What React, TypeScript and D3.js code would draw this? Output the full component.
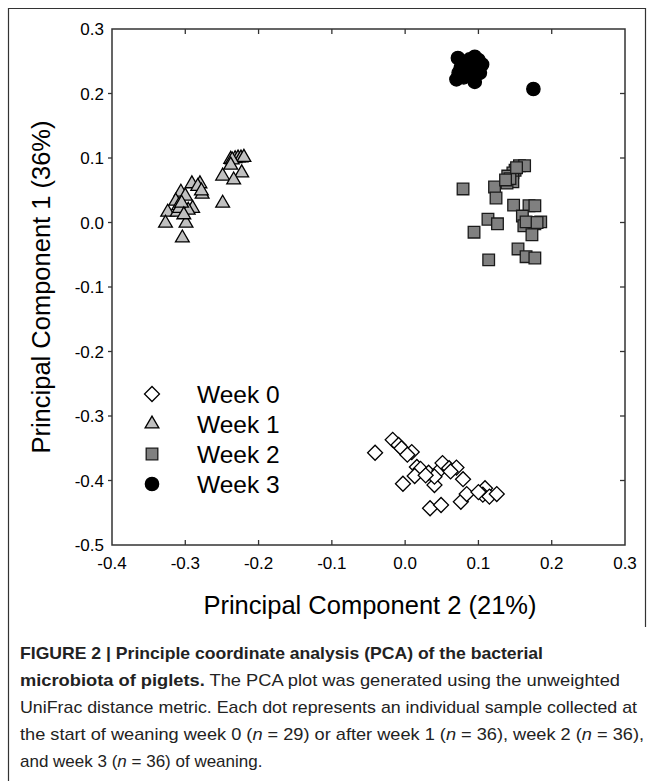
import React, { useEffect, useRef } from 'react';
import * as d3 from 'd3';

// [PC2, PC1] pairs
const week0 = [
  [-0.041, -0.357], [-0.017, -0.337], [-0.009, -0.345], [-0.005, -0.350], [0.009, -0.356],
  [0.016, -0.379], [0.021, -0.382], [0.013, -0.393], [-0.003, -0.405], [0.032, -0.388],
  [0.040, -0.407], [0.047, -0.384], [0.051, -0.373], [0.060, -0.381], [0.070, -0.380],
  [0.079, -0.398], [0.034, -0.443], [0.049, -0.438], [0.076, -0.433], [0.084, -0.421],
  [0.109, -0.412], [0.106, -0.422], [0.115, -0.425], [0.125, -0.421], [0.040, -0.394],
  [0.003, -0.360], [0.028, -0.392], [0.062, -0.386], [0.100, -0.418],
];
const week1 = [
  [-0.238, 0.098], [-0.232, 0.099], [-0.228, 0.100], [-0.224, 0.100], [-0.220, 0.101],
  [-0.236, 0.097], [-0.238, 0.089], [-0.249, 0.072], [-0.223, 0.077], [-0.234, 0.066],
  [-0.249, 0.030], [-0.291, 0.060], [-0.280, 0.060], [-0.277, 0.044], [-0.306, 0.047],
  [-0.300, 0.041], [-0.313, 0.033], [-0.309, 0.026], [-0.290, 0.022], [-0.296, 0.019],
  [-0.324, 0.016], [-0.311, 0.016], [-0.327, -0.001], [-0.299, -0.001], [-0.304, -0.024],
  [-0.283, 0.056], [-0.308, 0.022], [-0.305, 0.030], [-0.302, 0.012], [-0.278, 0.049],
];
const week2 = [
  [0.156, 0.088], [0.163, 0.088], [0.150, 0.081], [0.147, 0.077], [0.140, 0.072],
  [0.147, 0.063], [0.139, 0.061], [0.143, 0.068], [0.122, 0.055], [0.079, 0.052],
  [0.124, 0.038], [0.148, 0.027], [0.169, 0.026], [0.177, 0.026], [0.113, 0.005],
  [0.126, -0.002], [0.160, 0.010], [0.162, -0.005], [0.177, -0.002], [0.185, 0.001],
  [0.173, -0.019], [0.094, -0.015], [0.154, -0.041], [0.165, -0.053], [0.177, -0.055],
  [0.114, -0.058], [0.165, 0.001], [0.180, 0.000], [0.137, 0.066], [0.152, 0.085],
];
const week3 = [
  [0.072, 0.255], [0.078, 0.245], [0.088, 0.253], [0.095, 0.257], [0.100, 0.252],
  [0.105, 0.245], [0.098, 0.240], [0.085, 0.238], [0.073, 0.232], [0.070, 0.222],
  [0.080, 0.225], [0.090, 0.226], [0.095, 0.218], [0.102, 0.232], [0.083, 0.248],
  [0.076, 0.240], [0.092, 0.244], [0.175, 0.207],
];

const legendLabels = ['Week 0', 'Week 1', 'Week 2', 'Week 3'];
const xTicks = [-0.4, -0.3, -0.2, -0.1, 0.0, 0.1, 0.2, 0.3];
const yTicks = [0.3, 0.2, 0.1, 0.0, -0.1, -0.2, -0.3, -0.4, -0.5];

const captionLines = [
  [{ b: true, t: 'FIGURE 2 | Principle coordinate analysis (PCA) of the bacterial' }],
  [{ b: true, t: 'microbiota of piglets.' }, { t: ' The PCA plot was generated using the unweighted' }],
  [{ t: 'UniFrac distance metric. Each dot represents an individual sample collected at' }],
  [{ t: 'the start of weaning week 0 (' }, { i: true, t: 'n' }, { t: ' = 29) or after week 1 (' }, { i: true, t: 'n' },
    { t: ' = 36), week 2 (' }, { i: true, t: 'n' }, { t: ' = 36),' }],
  [{ t: 'and week 3 (' }, { i: true, t: 'n' }, { t: ' = 36) of weaning.' }],
];
// rendered widths of the caption lines in the figure (last line left natural)
const captionWidths = [523, 600, 617, 624, 0];

const App = () => {
  const ref = useRef<SVGSVGElement>(null);
  const W = 655, H = 781;
  const left = 112, right = 625, top = 29, bottom = 545;

  useEffect(() => {
    const svg = d3.select(ref.current);
    svg.selectAll('*').remove();
    const font = '"Liberation Sans", Arial, sans-serif';
    const fmt = (d: number) => d3.format('.1f')(d).replace('\u2212', '-');

    const x = d3.scaleLinear().domain([-0.4, 0.3]).range([left, right]);
    const y = d3.scaleLinear().domain([-0.5, 0.3]).range([bottom, top]);

    // outer border
    svg.append('path')
      .attr('d', `M8.5,781 V8.5 H645.5 V627`)
      .attr('fill', 'none').attr('stroke', '#333').attr('stroke-width', 1.2);

    // frame
    svg.append('rect')
      .attr('x', left).attr('y', top).attr('width', right - left).attr('height', bottom - top)
      .attr('fill', 'none').attr('stroke', '#333').attr('stroke-width', 1.5);

    const tk = svg.append('g').attr('stroke', '#333').attr('stroke-width', 1.3);
    xTicks.slice(1, -1).forEach(t => {
      tk.append('line').attr('x1', x(t)).attr('x2', x(t)).attr('y1', top).attr('y2', top + 5);
      tk.append('line').attr('x1', x(t)).attr('x2', x(t)).attr('y1', bottom).attr('y2', bottom - 5);
    });
    yTicks.slice(1, -1).forEach(t => {
      tk.append('line').attr('x1', left).attr('x2', left - 4).attr('y1', y(t)).attr('y2', y(t));
      tk.append('line').attr('x1', right).attr('x2', right - 5).attr('y1', y(t)).attr('y2', y(t));
    });

    svg.append('g').selectAll('text').data(xTicks).enter().append('text')
      .attr('x', d => x(d)).attr('y', bottom + 24)
      .attr('text-anchor', 'middle').attr('font-family', font).attr('font-size', 17)
      .text(fmt);
    svg.append('g').selectAll('text').data(yTicks).enter().append('text')
      .attr('x', left - 8).attr('y', d => y(d) + 6)
      .attr('text-anchor', 'end').attr('font-family', font).attr('font-size', 17)
      .text(fmt);

    svg.append('text')
      .attr('x', 370).attr('y', 614)
      .attr('text-anchor', 'middle').attr('font-family', font).attr('font-size', 25.5)
      .text('Principal Component 2 (21%)');
    svg.append('text')
      .attr('transform', `translate(50, ${(top + bottom) / 2}) rotate(-90)`)
      .attr('text-anchor', 'middle').attr('font-family', font).attr('font-size', 25.5)
      .text('Principal Component 1 (36%)');

    const sq = d3.symbol().type(d3.symbolSquare).size(135)();
    const diamond = d3.symbol().type(d3.symbolSquare).size(112)();
    const tri = d3.symbol().type(d3.symbolTriangle).size(82)();
    const circ = d3.symbol().type(d3.symbolCircle).size(140)();

    const styles = [
      { data: week0, path: diamond, rot: 45, fill: '#fff', stroke: '#000' },
      { data: week1, path: tri, rot: 0, fill: '#c0c0c0', stroke: '#000' },
      { data: week2, path: sq, rot: 0, fill: '#808080', stroke: '#1a1a1a' },
      { data: week3, path: circ, rot: 0, fill: '#000', stroke: '#000' },
    ];

    styles.forEach(s => {
      svg.append('g').selectAll('path').data(s.data).enter().append('path')
        .attr('d', s.path)
        .attr('transform', d => `translate(${x(d[0])},${y(d[1])}) rotate(${s.rot})`)
        .attr('fill', s.fill).attr('stroke', s.stroke).attr('stroke-width', 1.3);
    });

    // legend
    const lg = svg.append('g');
    styles.forEach((s, i) => {
      const ly = 394 + i * 30;
      lg.append('path').attr('d', s.path)
        .attr('transform', `translate(152,${ly}) rotate(${s.rot})`)
        .attr('fill', s.fill).attr('stroke', s.stroke).attr('stroke-width', 1.3);
      lg.append('text').attr('x', 197).attr('y', ly + 8.5)
        .attr('font-family', font).attr('font-size', 24.5).text(legendLabels[i]);
    });

    // caption
    captionLines.forEach((line, i) => {
      const t = svg.append('text').attr('x', 20).attr('y', 659 + i * 27)
        .attr('font-family', font).attr('font-size', 17).attr('fill', '#222');
      if (captionWidths[i]) t.attr('textLength', captionWidths[i]).attr('lengthAdjust', 'spacingAndGlyphs');
      line.forEach((seg: any) => {
        t.append('tspan')
          .attr('font-weight', seg.b ? 'bold' : 'normal')
          .attr('font-style', seg.i ? 'italic' : 'normal')
          .text(seg.t);
      });
    });
  }, []);

  return <svg ref={ref} width={W} height={H} style={{ display: 'block', position: 'absolute', left: 0, top: 0 }} />;
};

export default App;
